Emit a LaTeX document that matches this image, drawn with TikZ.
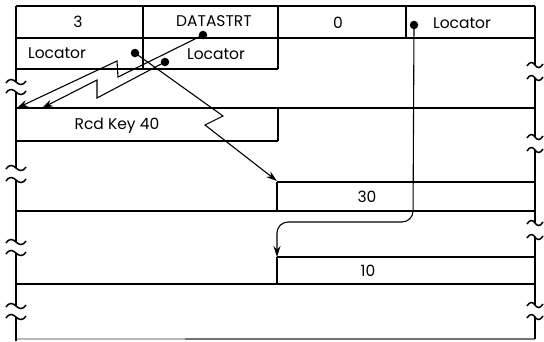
\documentclass[tikz,border=0pt]{standalone}
\usepackage{fontspec}
\setmainfont{Poppins}
\usetikzlibrary{arrows.meta}
\begin{document}
\begin{tikzpicture}[x=1pt,y=-1pt,
  rule/.style={line width=1.1pt,black},
  border/.style={line width=1.6pt,black},
  lbl/.style={inner sep=0pt,font=\fontsize{15.5}{15.5}\selectfont},
  dotn/.style={circle,fill=black,inner sep=0pt,minimum size=8.5pt},
  link/.style={line width=1.1pt,-{Stealth[length=11pt,width=7pt]}},
  brk/.style={line width=1.5pt}]
\useasboundingbox (0,0) rectangle (544,341);
% horizontal rules
\draw[rule] (16,6) -- (535,6);
\draw[rule] (16,38) -- (535,38);
\draw[rule] (16,69) -- (278,69);
\draw[rule] (16,108) -- (535,108);
\draw[rule] (16,141) -- (278,141);
\draw[rule] (277,182) -- (535,182);
\draw[rule] (16,211) -- (535,211);
\draw[rule] (277,257) -- (535,257);
\draw[rule] (16,284) -- (535,284);
\draw[line width=1.1pt,gray!55] (16,339) -- (185,339);
\draw[line width=1.1pt,gray!90!black] (185,339) -- (535,339);
% vertical rules
\draw[rule] (143,6) -- (143,69);
\draw[rule] (278,6) -- (278,69);
\draw[rule] (406,6) -- (406,38);
\draw[rule] (278,108) -- (278,141);
\draw[rule] (277,182) -- (277,211);
\draw[rule] (277,257) -- (277,284);
% left border with breaks
\foreach \a/\b in {6/82,92/168,180/242,253/306,317/341}
  \draw[border] (16,\a) -- (16,\b);
\foreach \y in {82,92,168,180,242,253,306,317}
  \draw[brk] (6,\y+1) .. controls (9,\y-4) and (13,\y-3) .. (16,\y) .. controls (19,\y+3) and (23,\y+4) .. (26,\y-1);
% right border with breaks
\foreach \a/\b in {6/65,78/137,150/223,237/305,317/339}
  \draw[border] (535,\a) -- (535,\b);
\foreach \y in {65,78,137,150,223,237,305,317}
  \draw[brk] (527,\y+1) .. controls (530,\y-4) and (533,\y-3) .. (535,\y) .. controls (537,\y+3) and (540,\y+4) .. (543,\y-1);
% texts
\node[lbl] (t3) at (78,22) {3};
\node[lbl] (tds) at (214,21) {DATASTRT};
\node[lbl] (t0) at (338,23) {0};
\node[lbl] (tloc) at (462,23) {Locator};
\node[lbl] (tl1) at (57,53) {Locator};
\node[lbl] (tl2) at (216,54) {Locator};
\node[lbl] (trk) at (117,126) {Rcd Key 40};
\node[lbl] (t30) at (367,197) {30};
\node[lbl] (t10) at (368,271) {10};
% dots
\node[dotn] (d1) at (203,35) {};
\node[dotn] (d2) at (165,62) {};
\node[dotn] (d3) at (135,53) {};
\node[dotn] (d4) at (414,25) {};
% targets
\coordinate (e1) at (17,108);
\coordinate (e2) at (42,108);
\coordinate (e3) at (277,181);
\coordinate (e4) at (277,257);
% connectors
\draw[link] (d1.center) -- (118,77) -- (117,61) -- (e1);
\draw[link] (d2.center) -- (97,98) -- (97,80) -- (e2);
\draw[link] (d3.center) -- (223,116) -- (205,125) -- (e3);
\draw[link,rounded corners=11pt] (d4.center) -- (413,222) -- (277,222) -- (e4);
\end{tikzpicture}
\end{document}
